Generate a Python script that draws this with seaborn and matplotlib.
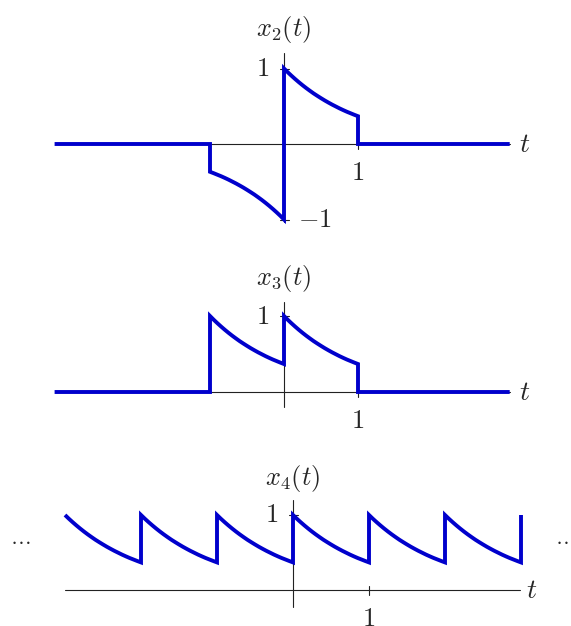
# Three signals x2, x3, x4 built from one decaying exponential piece

import numpy
import pandas
import seaborn as sns
import matplotlib
matplotlib.use('Agg')
import matplotlib.pyplot as plt

sns.set_theme(style='white')
plt.rcParams['mathtext.fontset'] = 'cm'
plt.rcParams['font.family'] = ['DejaVu Serif']

# one period of the decay, t from 0 to 1
decay_t = [0.0, 0.05, 0.1, 0.15, 0.2, 0.25, 0.3, 0.35, 0.4, 0.45, 0.5,
           0.55, 0.6, 0.65, 0.7, 0.75, 0.8, 0.85, 0.9, 0.95, 1.0]
decay_v = [1.000, 0.951, 0.905, 0.861, 0.819, 0.779, 0.741, 0.705, 0.670, 0.638, 0.607,
           0.577, 0.549, 0.522, 0.497, 0.472, 0.449, 0.427, 0.407, 0.387, 0.368]

titles = ['$x_2(t)$', '$x_3(t)$', '$x_4(t)$']
x_ticks = [1]
x_tick_labels = ['$1$']
y_ticks = [[1, -1], [1], [1]]
y_tick_labels = [['$1$', '$-1$'], ['$1$'], ['$1$']]

x2_left, x2_right = -3.1, 3.05
x4_periods = [-3, -2, -1, 0, 1, 2]

BLUE = '#0000cc'
AXIS = '#222222'
FS = 19
W, H = 571, 626


def build_x2():
    t = [x2_left, -1]
    v = [0, 0]
    t += [-1 + d for d in decay_t]
    v += [-x for x in decay_v[::-1]]
    t += decay_t
    v += decay_v
    t += [1, x2_right]
    v += [0, 0]
    return pandas.DataFrame({'t': t, 'v': v})


def build_x3():
    t = [x2_left, -1]
    v = [0, 0]
    t += [-1 + d for d in decay_t]
    v += decay_v
    t += decay_t
    v += decay_v
    t += [1, x2_right]
    v += [0, 0]
    return pandas.DataFrame({'t': t, 'v': v})


def build_x4():
    t, v = [], []
    for k in x4_periods:
        t += [k + d for d in decay_t]
        v += decay_v
    t.append(x4_periods[-1] + 1)
    v.append(decay_v[0])
    return pandas.DataFrame({'t': t, 'v': v})


fig = plt.figure(figsize=(W / 100, H / 100), dpi=100)


def panel(ox, oy, ux, uy, top, bottom):
    ax = fig.add_axes([0, 1 - bottom / H, 1, (bottom - top) / H])
    lims = ((0 - ox) / ux, (W - ox) / ux), ((oy - bottom) / uy, (oy - top) / uy)
    ax.axis('off')
    return ax, lims


def draw_axes(ax, xl, xr, yb, yt, title, yts, ytl, t_label_x, title_y, ux, uy):
    ax.plot([xl, xr], [0, 0], color=AXIS, lw=0.8, zorder=1)
    ax.plot([0, 0], [yb, yt], color=AXIS, lw=0.8, zorder=1)
    dx = 4.5 / ux
    dy = 4.5 / uy
    for yv, lab in zip(yts, ytl):
        ax.plot([-dx, dx], [yv, yv], color=AXIS, lw=0.8, zorder=1)
        if yv > 0:
            ax.text(-15 / ux, yv, lab, ha='right', va='center', fontsize=FS)
        else:
            ax.text(14 / ux, yv, lab, ha='left', va='center', fontsize=FS)
    for xv, lab in zip(x_ticks, x_tick_labels):
        ax.plot([xv, xv], [dy, -dy], color=AXIS, lw=0.8, zorder=1)
        ax.text(xv, -28 / uy, lab, ha='center', va='center', fontsize=FS)
    ax.text(t_label_x, 0, '$t$', ha='left', va='center', fontsize=FS + 1)
    ax.text(0, title_y, title, ha='center', va='center', fontsize=FS)


def draw_signal(ax, df, lims):
    sns.lineplot(data=df, x='t', y='v', sort=False, estimator=None, ax=ax,
                 color=BLUE, lw=2.8, solid_joinstyle='miter', solid_capstyle='butt',
                 zorder=3, legend=False)
    ax.axis('off')
    ax.set_xlim(*lims[0])
    ax.set_ylim(*lims[1])


# panel 1
ax1, lims1 = panel(284, 144, 74, 75.5, 0, 250)
draw_axes(ax1, x2_left, x2_right, -1.03, 1.2, titles[0], y_ticks[0], y_tick_labels[0],
          3.17, 1.51, 74, 75.5)
draw_signal(ax1, build_x2(), lims1)

# panel 2
ax2, lims2 = panel(284, 392, 74, 76, 250, 450)
draw_axes(ax2, x2_left, x2_right, -0.2, 1.18, titles[1], y_ticks[1], y_tick_labels[1],
          3.17, 1.5, 74, 76)
draw_signal(ax2, build_x3(), lims2)

# panel 3
ax3, lims3 = panel(293, 590, 76, 75, 450, 626)
draw_axes(ax3, -3.0, 2.99, -0.23, 1.2, titles[2], y_ticks[2], y_tick_labels[2],
          3.07, 1.49, 76, 75)
draw_signal(ax3, build_x4(), lims3)
ax3.text(-3.59, 0.69, r'$\ldots$', ha='center', va='center', fontsize=15)
ax3.text(3.58, 0.69, r'$\ldots$', ha='center', va='center', fontsize=15)

fig.savefig('out.png', dpi=100)
